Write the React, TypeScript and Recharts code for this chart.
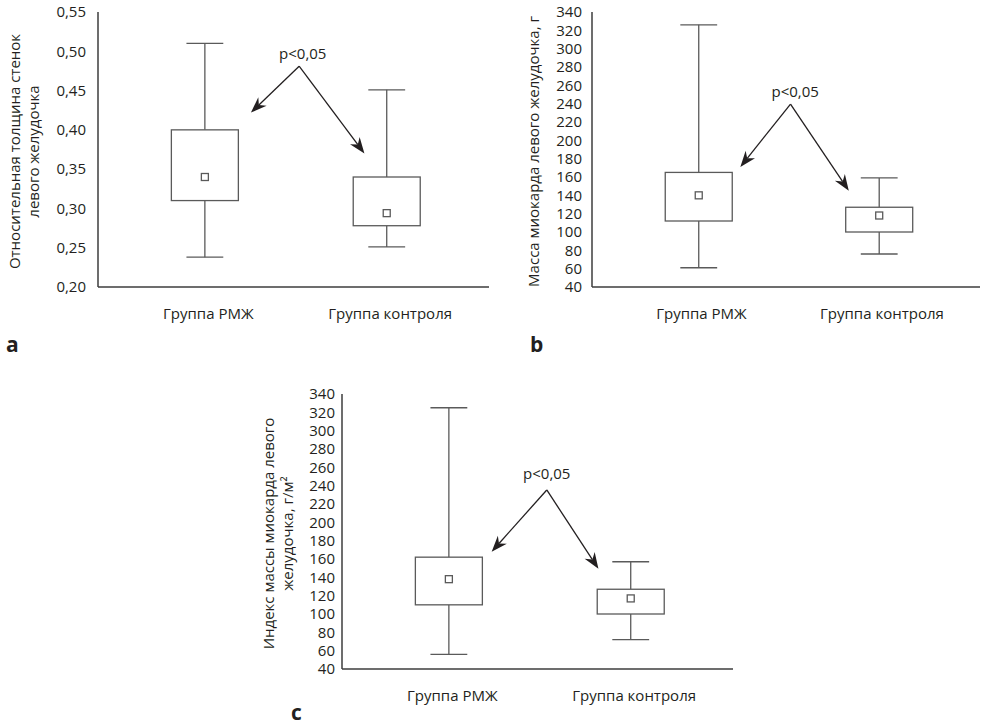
import React from 'react';
import {
  ComposedChart,
  Bar,
  XAxis,
  YAxis,
  ReferenceLine,
  ReferenceDot,
} from 'recharts';

// Группы и их позиции по оси X
const groups = ['Группа РМЖ', 'Группа контроля'];
const groupPos = [1, 2];
const xDomain = [0.41, 2.56];

// a — относительная толщина стенок ЛЖ
const wallMin = [0.238, 0.251];
const wallQ1 = [0.31, 0.278];
const wallMedian = [0.34, 0.294];
const wallQ3 = [0.4, 0.34];
const wallMax = [0.51, 0.451];
const wallTicks = [0.2, 0.25, 0.3, 0.35, 0.4, 0.45, 0.5, 0.55];
// вершина, левое острие, правое острие
const wallArrows = [[1.516, 0.481], [1.251, 0.422], [1.875, 0.37]];
const wallNote = [1.536, 0.49];

// b — масса миокарда ЛЖ, г
const massMin = [61, 76];
const massQ1 = [112, 100];
const massMedian = [140, 118];
const massQ3 = [165, 127];
const massMax = [326, 159];
const massTicks = [40, 60, 80, 100, 120, 140, 160, 180, 200, 220, 240, 260, 280, 300, 320, 340];
const massArrows = [[1.51, 239.6], [1.232, 171], [1.833, 145]];
const massNote = [1.536, 247];

// c — индекс массы миокарда ЛЖ, г/м²
const indexMin = [56, 72];
const indexQ1 = [110, 100];
const indexMedian = [138, 117];
const indexQ3 = [162, 127];
const indexMax = [325, 157];
const indexTicks = [40, 60, 80, 100, 120, 140, 160, 180, 200, 220, 240, 260, 280, 300, 320, 340];
const indexArrows = [[1.536, 235.3], [1.233, 168], [1.82, 149.4]];
const indexNote = [1.536, 247];

const TEXT = '#231f20';
const FRAME = '#3c3c3c';
const BOX = '#5a5a5a';

const buildRows = (min: number[], q1: number[], med: number[], q3: number[], max: number[]) =>
  groups.map((name, i) => ({
    pos: groupPos[i],
    name,
    min: min[i],
    q1: q1[i],
    median: med[i],
    q3: q3[i],
    max: max[i],
  }));

function BoxShape(props: any) {
  const { x, y, width, height, payload } = props;
  const { min, q1, median, q3, max } = payload;
  const top = Math.min(y, y + height);
  const h = Math.abs(height);
  const py = (v: number) => top + ((max - v) / (max - min)) * h;
  const cx = x + width / 2;
  const cap = width * 0.55;
  const m = 3.5;
  return (
    <g stroke={BOX} strokeWidth={1.3} fill="none">
      <line x1={cx} y1={py(max)} x2={cx} y2={py(q3)} />
      <line x1={cx} y1={py(q1)} x2={cx} y2={py(min)} />
      <line x1={cx - cap / 2} y1={py(max)} x2={cx + cap / 2} y2={py(max)} />
      <line x1={cx - cap / 2} y1={py(min)} x2={cx + cap / 2} y2={py(min)} />
      <rect x={x} y={py(q3)} width={width} height={py(q1) - py(q3)} fill="#fff" />
      <rect x={cx - m} y={py(median) - m} width={m * 2} height={m * 2} fill="#fff" />
    </g>
  );
}

function ArrowShape(props: any) {
  const { x1, y1, x2, y2 } = props;
  const dx = x2 - x1;
  const dy = y2 - y1;
  const len = Math.hypot(dx, dy) || 1;
  const ux = dx / len;
  const uy = dy / len;
  const nx = -uy;
  const ny = ux;
  const L = 16;
  const W = 6;
  const notch = 11;
  const bx = x2 - ux * L;
  const by = y2 - uy * L;
  const head = `${x2},${y2} ${bx + nx * W},${by + ny * W} ${x2 - ux * notch},${y2 - uy * notch} ${bx - nx * W},${by - ny * W}`;
  return (
    <g>
      <line x1={x1} y1={y1} x2={x2 - ux * notch} y2={y2 - uy * notch} stroke={TEXT} strokeWidth={1.3} />
      <polygon points={head} fill={TEXT} />
    </g>
  );
}

interface PanelProps {
  left: number;
  top: number;
  width: number;
  axisWidth: number;
  tickGap: number;
  rows: ReturnType<typeof buildRows>;
  ticks: number[];
  fmt: (v: number) => string;
  title: string[];
  titleX: number;
  arrows: number[][];
  note: number[];
}

function Panel({ left, top, width, axisWidth, tickGap, rows, ticks, fmt, title, titleX, arrows, note }: PanelProps) {
  const yDomain = [ticks[0], ticks[ticks.length - 1]];
  const renderTitle = (p: any) => {
    const vb = p.viewBox || { y: 12, height: 275 };
    const cy = vb.y + vb.height / 2 + 2;
    return (
      <text
        transform={`translate(${titleX}, ${cy}) rotate(-90)`}
        textAnchor="middle"
        fill={TEXT}
        fontSize={15}
      >
        {title.map((line, i) => (
          <tspan key={i} x={0} y={i * 19} dominantBaseline="central">
            {line}
          </tspan>
        ))}
      </text>
    );
  };
  return (
    <div style={{ position: 'absolute', left, top }}>
      <ComposedChart
        width={width}
        height={330}
        data={rows}
        margin={{ top: 12, right: 1, bottom: 13, left: 0 }}
      >
        <XAxis
          dataKey="pos"
          type="number"
          domain={xDomain}
          ticks={groupPos}
          allowDataOverflow
          tickFormatter={(v) => groups[groupPos.indexOf(v)] ?? ''}
          tickLine={false}
          tickSize={0}
          tickMargin={21}
          tick={{ fill: TEXT, fontSize: 15, dx: 3 }}
          axisLine={{ stroke: FRAME, strokeWidth: 1.5 }}
          height={30}
        />
        <XAxis
          xAxisId="top"
          orientation="top"
          type="number"
          domain={xDomain}
          tick={false}
          tickLine={false}
          height={0}
          axisLine={{ stroke: FRAME, strokeWidth: 1.5 }}
        />
        <YAxis
          type="number"
          domain={yDomain}
          ticks={ticks}
          interval={0}
          allowDataOverflow
          tickFormatter={fmt}
          tickLine={false}
          tickSize={0}
          tickMargin={tickGap}
          tick={{ fill: TEXT, fontSize: 15 }}
          axisLine={{ stroke: FRAME, strokeWidth: 1.5 }}
          width={axisWidth}
          label={renderTitle}
        />
        <YAxis
          yAxisId="right"
          orientation="right"
          type="number"
          domain={yDomain}
          tick={false}
          tickLine={false}
          width={0}
          axisLine={{ stroke: FRAME, strokeWidth: 1.5 }}
        />
        <Bar
          dataKey={(d: any) => [d.min, d.max]}
          barSize={67}
          shape={BoxShape}
          isAnimationActive={false}
        />
        {arrows.slice(1).map((tip, i) => (
          <ReferenceLine
            key={i}
            segment={[
              { x: arrows[0][0], y: arrows[0][1] },
              { x: tip[0], y: tip[1] },
            ]}
            shape={ArrowShape}
          />
        ))}
        <ReferenceDot
          x={note[0]}
          y={note[1]}
          shape={(p: any) => (
            <text x={p.cx} y={p.cy} textAnchor="middle" fill={TEXT} fontSize={15}>
              {'p<0,05'}
            </text>
          )}
        />
      </ComposedChart>
    </div>
  );
}

const letterStyle: React.CSSProperties = {
  position: 'absolute',
  fontSize: 21,
  lineHeight: '21px',
  fontWeight: 700,
  color: TEXT,
};

export default function App() {
  const comma2 = (v: number) => v.toFixed(2).replace('.', ',');
  const plain = (v: number) => String(v);
  return (
    <div
      style={{
        position: 'absolute',
        left: 0,
        top: 0,
        width: 981,
        height: 727,
        background: '#fff',
        overflow: 'hidden',
        fontFamily: '"Open Sans", "Noto Sans", sans-serif',
      }}
    >
      <Panel
        left={0}
        top={0}
        width={490}
        axisWidth={98}
        tickGap={12}
        rows={buildRows(wallMin, wallQ1, wallMedian, wallQ3, wallMax)}
        ticks={wallTicks}
        fmt={comma2}
        title={['Относительная толщина стенок', 'левого желудочка']}
        titleX={14}
        arrows={wallArrows}
        note={wallNote}
      />
      <Panel
        left={490}
        top={0}
        width={491}
        axisWidth={102}
        tickGap={10}
        rows={buildRows(massMin, massQ1, massMedian, massQ3, massMax)}
        ticks={massTicks}
        fmt={plain}
        title={['Масса миокарда левого желудочка, г']}
        titleX={43}
        arrows={massArrows}
        note={massNote}
      />
      <Panel
        left={250}
        top={382}
        width={484}
        axisWidth={92}
        tickGap={7}
        rows={buildRows(indexMin, indexQ1, indexMedian, indexQ3, indexMax)}
        ticks={indexTicks}
        fmt={plain}
        title={['Индекс массы миокарда левого', 'желудочка, г/м²']}
        titleX={18}
        arrows={indexArrows}
        note={indexNote}
      />
      <div style={{ ...letterStyle, left: 6, top: 334 }}>a</div>
      <div style={{ ...letterStyle, left: 530, top: 334 }}>b</div>
      <div style={{ ...letterStyle, left: 291, top: 702 }}>c</div>
    </div>
  );
}
